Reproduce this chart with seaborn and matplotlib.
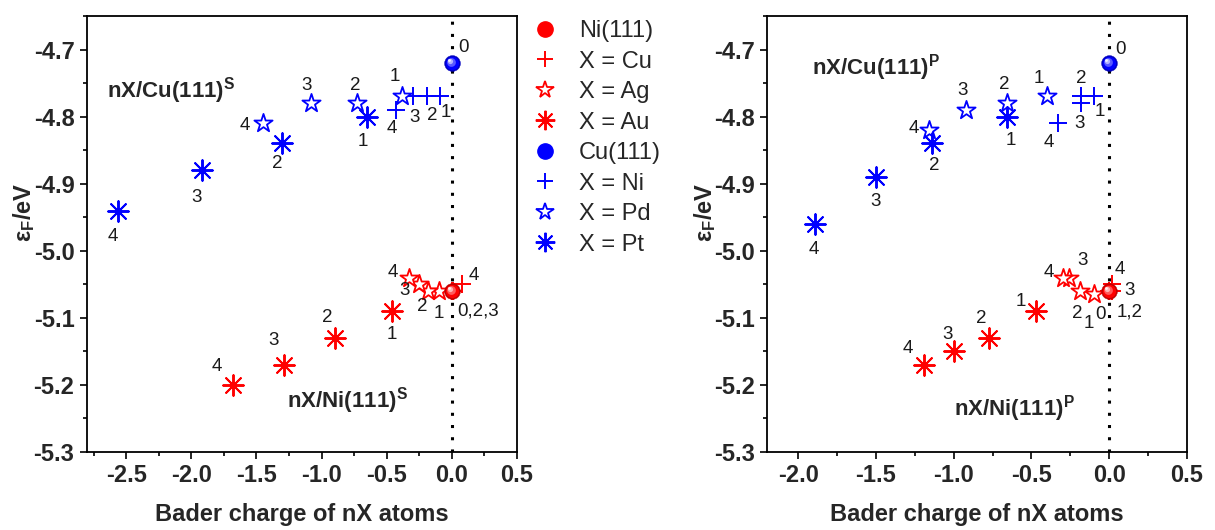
import numpy as np
import matplotlib
matplotlib.use("Agg")
import matplotlib.pyplot as plt
import matplotlib.transforms as mtransforms
from matplotlib.colors import to_rgb
from matplotlib.lines import Line2D
from matplotlib.ticker import MultipleLocator
import seaborn as sns

sns.set_theme(style="ticks")
plt.rcParams["font.family"] = ["Liberation Sans", "DejaVu Sans"]
plt.rcParams["mathtext.fontset"] = "custom"
plt.rcParams["mathtext.rm"] = "Liberation Sans"
plt.rcParams["mathtext.bf"] = "Liberation Sans:bold"
plt.rcParams["mathtext.it"] = "Liberation Sans:italic"
plt.rcParams["axes.unicode_minus"] = False

RED, BLUE = "#ff0000", "#0000ff"

# ── Data: left panel, nX/Ni(111)^S and nX/Cu(111)^S ─────────────────────────
S_ni111_x, S_ni111_y = [0.0], [-5.06]
S_cu_x = [0.0, 0.0, 0.01, 0.08]
S_cu_y = [-5.06, -5.06, -5.06, -5.05]
S_ag_x = [-0.10, -0.18, -0.25, -0.33]
S_ag_y = [-5.06, -5.06, -5.05, -5.04]
S_au_x = [-0.46, -0.90, -1.29, -1.68]
S_au_y = [-5.09, -5.13, -5.17, -5.20]
S_cu111_x, S_cu111_y = [0.0], [-4.72]
S_ni_x = [-0.09, -0.19, -0.30, -0.43]
S_ni_y = [-4.77, -4.77, -4.77, -4.79]
S_pd_x = [-0.38, -0.73, -1.08, -1.45]
S_pd_y = [-4.77, -4.78, -4.78, -4.81]
S_pt_x = [-0.65, -1.30, -1.92, -2.56]
S_pt_y = [-4.80, -4.84, -4.88, -4.94]

# ── Data: right panel, nX/Ni(111)^P and nX/Cu(111)^P ────────────────────────
P_ni111_x, P_ni111_y = [0.0], [-5.06]
P_cu_x = [0.0, 0.0, 0.02, 0.02]
P_cu_y = [-5.06, -5.06, -5.06, -5.05]
P_ag_x = [-0.10, -0.19, -0.26, -0.30]
P_ag_y = [-5.065, -5.06, -5.04, -5.04]
P_au_x = [-0.47, -0.77, -1.00, -1.19]
P_au_y = [-5.09, -5.13, -5.15, -5.17]
P_cu111_x, P_cu111_y = [0.0], [-4.72]
P_ni_x = [-0.10, -0.18, -0.18, -0.33]
P_ni_y = [-4.77, -4.77, -4.78, -4.81]
P_pd_x = [-0.40, -0.66, -0.92, -1.16]
P_pd_y = [-4.77, -4.78, -4.79, -4.82]
P_pt_x = [-0.66, -1.14, -1.50, -1.89]
P_pt_y = [-4.80, -4.84, -4.89, -4.96]

# point labels (n) and where they sit relative to the point, in pixels
S_labels = {
    "ni111": (["0,2,3"], [(26, -20)]),
    "cu": (["", "", "", "4"], [(0, 0), (0, 0), (0, 0), (12, 9)]),
    "ag": (["1", "2", "3", "4"], [(0, -22), (-6, -15), (-15, -6), (-16, 5)]),
    "au": (["1", "2", "3", "4"], [(0, -23), (-7, 20), (-10, 24), (-16, 18)]),
    "cu111": (["0"], [(12, 15)]),
    "ni": (["1", "2", "3", "4"], [(6, -16), (5, -19), (2, -21), (-4, -19)]),
    "pd": (["1", "2", "3", "4"], [(-8, 20), (-1, 18), (-5, 18), (-18, -2)]),
    "pt": (["1", "2", "3", "4"], [(-4, -25), (-5, -20), (-5, -27), (-5, -26)]),
}
P_labels = {
    "ni111": (["0"], [(-9, -23)]),
    "cu": (["1,2", "", "3", "4"], [(20, -21), (0, 0), (17, 1), (7, 15)]),
    "ag": (["1", "2", "3", "4"], [(-5, -29), (-2, -22), (14, 17), (-14, 5)]),
    "au": (["1", "2", "3", "4"], [(-15, 10), (-8, 19), (-6, 17), (-16, 16)]),
    "cu111": (["0"], [(11, 13)]),
    "ni": (["1", "2", "3", "4"], [(6, -15), (0, 18), (-2, -20), (-9, -19)]),
    "pd": (["1", "2", "3", "4"], [(-8, 18), (-2, 19), (-4, 19), (-15, 2)]),
    "pt": (["1", "2", "3", "4"], [(4, -24), (2, -22), (0, -25), (-1, -26)]),
}

legend_labels = ["Ni(111)", "X = Cu", "X = Ag", "X = Au",
                 "Cu(111)", "X = Ni", "X = Pd", "X = Pt"]

ASTER = (8, 2, 0)


def mix(c, t):
    c = np.array(to_rgb(c))
    return tuple(c + (1 - c) * t)


def ball(ax, x, y, color):
    dark = tuple(np.array(to_rgb(color)) * 0.75)
    sns.scatterplot(x=x, y=y, ax=ax, marker="o", s=130, color=dark,
                    edgecolor=dark, linewidth=0.3, legend=False, zorder=5)
    for k, (t, s) in enumerate([(0.0, 90), (0.35, 40), (0.7, 14), (0.95, 4)]):
        tr = mtransforms.offset_copy(ax.transData, fig=ax.figure,
                                     x=-0.7 * k, y=0.7 * k, units="points")
        ax.scatter(x, y, s=s, color=mix(color, t), linewidths=0,
                   transform=tr, zorder=6)


def series(ax, x, y, kind, color):
    if kind == "plus":
        sns.scatterplot(x=x, y=y, ax=ax, marker="+", s=150, color=color,
                        linewidth=1.4, legend=False, zorder=4)
    elif kind == "star":
        sns.scatterplot(x=x, y=y, ax=ax, marker="*", s=190, facecolor="white",
                        edgecolor=color, linewidth=1.3, legend=False, zorder=4)
    elif kind == "ast":
        sns.scatterplot(x=x, y=y, ax=ax, marker=ASTER, s=220, color=color,
                        linewidth=1.4, legend=False, zorder=4)


def label_points(ax, x, y, spec):
    texts, offs = spec
    for xi, yi, t, (dx, dy) in zip(x, y, texts, offs):
        if t:
            ax.annotate(t, (xi, yi), xytext=(dx, dy), textcoords="offset pixels",
                        ha="center", va="center", fontsize=13.5, color="#1a1a1a",
                        zorder=7)


def draw_panel(ax, d, labels, xlim, tag):
    ax.axvline(0, color="black", lw=2.2, ls=(0, (1, 3)), zorder=3)
    series(ax, d["cu"][0], d["cu"][1], "plus", RED)
    series(ax, d["ag"][0], d["ag"][1], "star", RED)
    series(ax, d["au"][0], d["au"][1], "ast", RED)
    series(ax, d["ni"][0], d["ni"][1], "plus", BLUE)
    series(ax, d["pd"][0], d["pd"][1], "star", BLUE)
    series(ax, d["pt"][0], d["pt"][1], "ast", BLUE)
    ball(ax, d["ni111"][0], d["ni111"][1], RED)
    ball(ax, d["cu111"][0], d["cu111"][1], BLUE)
    for key, (xs, ys) in d.items():
        label_points(ax, xs, ys, labels[key])

    ax.set_xlim(*xlim)
    ax.set_ylim(-5.3, -4.65)
    ax.xaxis.set_major_locator(MultipleLocator(0.5))
    ax.xaxis.set_minor_locator(MultipleLocator(0.25))
    ax.yaxis.set_major_locator(MultipleLocator(0.1))
    ax.yaxis.set_minor_locator(MultipleLocator(0.05))
    ax.xaxis.set_major_formatter(matplotlib.ticker.FormatStrFormatter("%.1f"))
    ax.yaxis.set_major_formatter(matplotlib.ticker.FormatStrFormatter("%.1f"))
    ax.tick_params(which="both", direction="out", top=False, right=False,
                   color="black", width=1.2)
    ax.tick_params(which="major", length=5, labelsize=17, pad=4)
    ax.tick_params(which="minor", length=3)
    for lab in ax.get_xticklabels() + ax.get_yticklabels():
        lab.set_fontweight("bold")
    for sp in ax.spines.values():
        sp.set_linewidth(1.3)
        sp.set_color("black")
    ax.grid(False)
    ax.set_xlabel("Bader charge of nX atoms", fontsize=17, fontweight="bold",
                  labelpad=11)
    ax.set_ylabel("ε$_\\mathbf{F}$/eV", fontsize=17, fontweight="bold")
    ax.yaxis.set_label_coords(-0.117, 0.55)
    (cu_pos, cu_txt), (ni_pos, ni_txt) = tag
    ax.text(*cu_pos, cu_txt, transform=ax.transAxes, fontsize=16,
            fontweight="bold", ha="left", va="center")
    ax.text(*ni_pos, ni_txt, transform=ax.transAxes, fontsize=16,
            fontweight="bold", ha="left", va="center")


S = {"cu": (S_cu_x, S_cu_y), "ag": (S_ag_x, S_ag_y), "au": (S_au_x, S_au_y),
     "ni": (S_ni_x, S_ni_y), "pd": (S_pd_x, S_pd_y), "pt": (S_pt_x, S_pt_y),
     "ni111": (S_ni111_x, S_ni111_y), "cu111": (S_cu111_x, S_cu111_y)}
P = {"cu": (P_cu_x, P_cu_y), "ag": (P_ag_x, P_ag_y), "au": (P_au_x, P_au_y),
     "ni": (P_ni_x, P_ni_y), "pd": (P_pd_x, P_pd_y), "pt": (P_pt_x, P_pt_y),
     "ni111": (P_ni111_x, P_ni111_y), "cu111": (P_cu111_x, P_cu111_y)}

fig = plt.figure(figsize=(12.15, 5.3), dpi=100)
axL = fig.add_axes([0.0716, 0.1472, 0.3539, 0.8226])
axR = fig.add_axes([0.6313, 0.1472, 0.3457, 0.8226])

draw_panel(axL, S, S_labels, (-2.8, 0.5),
           (((0.047, 0.830), "nX/Cu(111)$^\\mathbf{S}$"),
            ((0.465, 0.119), "nX/Ni(111)$^\\mathbf{S}$")))
draw_panel(axR, P, P_labels, (-2.2, 0.5),
           (((0.107, 0.881), "nX/Cu(111)$^\\mathbf{P}$"),
            ((0.445, 0.099), "nX/Ni(111)$^\\mathbf{P}$")))

# ── legend between the panels ────────────────────────────────────────────────
handles = [
    Line2D([], [], ls="none", marker="o", ms=11, color=RED, mec=RED),
    Line2D([], [], ls="none", marker="+", ms=12, mew=1.4, color=RED),
    Line2D([], [], ls="none", marker="*", ms=13, mew=1.3, mfc="white", mec=RED),
    Line2D([], [], ls="none", marker=ASTER, ms=14, mew=1.4, color=RED),
    Line2D([], [], ls="none", marker="o", ms=11, color=BLUE, mec=BLUE),
    Line2D([], [], ls="none", marker="+", ms=12, mew=1.4, color=BLUE),
    Line2D([], [], ls="none", marker="*", ms=13, mew=1.3, mfc="white", mec=BLUE),
    Line2D([], [], ls="none", marker=ASTER, ms=14, mew=1.4, color=BLUE),
]
fig.legend(handles, legend_labels, loc="upper left", bbox_to_anchor=(0.4337, 0.962),
           frameon=False, fontsize=17, handlelength=1.5, handletextpad=0.7,
           labelspacing=0.36, borderpad=0, borderaxespad=0)

fig.savefig("out.png", dpi=100)
